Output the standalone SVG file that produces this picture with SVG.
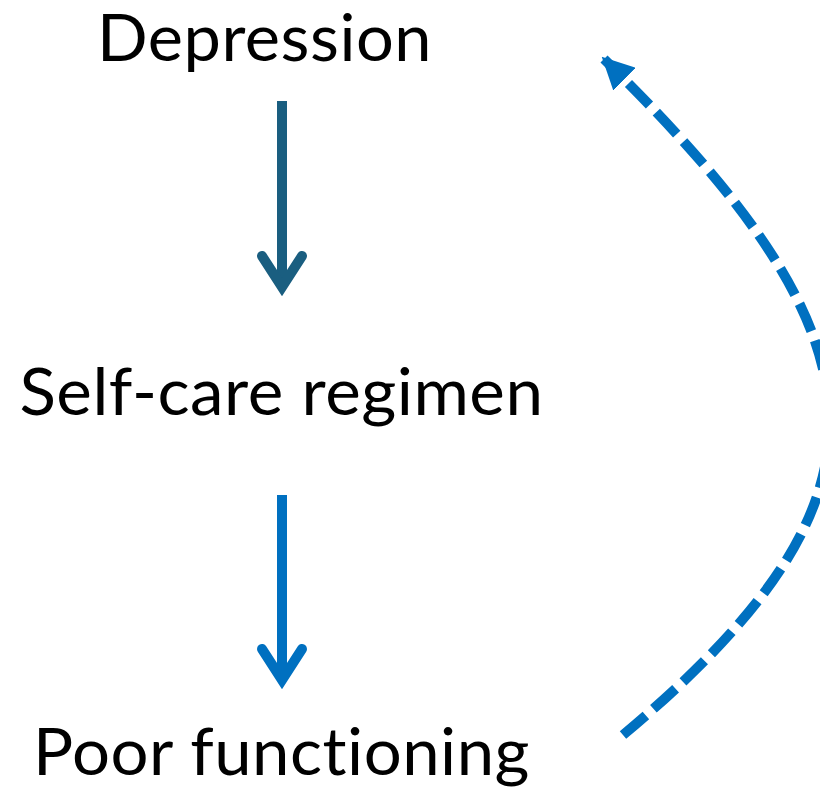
<svg xmlns="http://www.w3.org/2000/svg" width="820" height="789" viewBox="0 0 820 789">
  <defs>
    <marker id="tri" viewBox="0 0 10 10" refX="9" refY="5" markerWidth="3.2" markerHeight="3.2" orient="auto" markerUnits="strokeWidth">
      <path d="M0,0 L10,5 L0,10 Z" fill="#0070C0"/>
    </marker>
  </defs>
  <style>
    .lbl { font-family: "Lato", "Open Sans", "Liberation Sans", sans-serif; font-size: 66px; fill: #000; text-anchor: middle; font-variant-ligatures: none; font-feature-settings: "liga" 0, "clig" 0, "dlig" 0; letter-spacing: 0.5px; }
    .shaft { fill: none; stroke-width: 10; stroke-linecap: butt; }
    .head { fill: none; stroke-width: 10; stroke-linecap: round; stroke-linejoin: miter; stroke-miterlimit: 10; }
  </style>
  <rect width="820" height="789" fill="#fff"/>
  <g id="depression">
    <text class="lbl" x="264.5" y="61" textLength="335" lengthAdjust="spacingAndGlyphs">Depression</text>
  </g>
  <g id="self-care">
    <text class="lbl" x="281.5" y="415" textLength="524" lengthAdjust="spacingAndGlyphs">Self-care regimen</text>
  </g>
  <g id="poor-functioning">
    <text class="lbl" x="281.5" y="775" textLength="497" lengthAdjust="spacingAndGlyphs">Poor functioning</text>
  </g>
  <g id="connectors">
    <g stroke="#1A5E80">
      <line class="shaft" x1="282" y1="101" x2="282" y2="286"/>
      <path class="head" d="M262,256 L282,287 L302,256"/>
    </g>
    <g stroke="#0070C0">
      <line class="shaft" x1="282" y1="495" x2="282" y2="679"/>
      <path class="head" d="M262,649 L282,680 L302,649"/>
    </g>
    <path d="M623,735 C912,493 890,340 604,59" fill="none" stroke="#0070C0" stroke-width="10" stroke-dasharray="30 10" marker-end="url(#tri)"/>
  </g>
</svg>
